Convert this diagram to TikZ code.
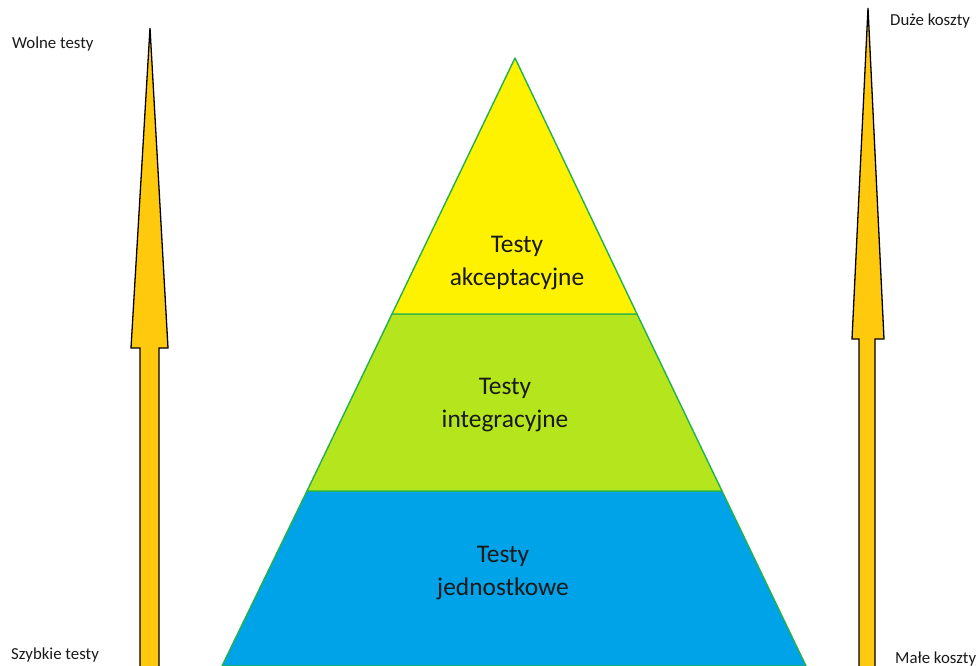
\documentclass[tikz,border=0pt]{standalone}
\usepackage{fontspec}
\setmainfont{Carlito}
\definecolor{pyrY}{HTML}{FFF200}
\definecolor{pyrG}{HTML}{B5E61D}
\definecolor{pyrB}{HTML}{00A2E8}
\definecolor{pyrLine}{HTML}{22B14C}
\definecolor{arrGold}{HTML}{FFC90E}
\begin{document}
\begin{tikzpicture}[x=1pt,y=-1pt,
  layer/.style={draw=pyrLine,line width=1.4pt,line join=round},
  bigarrow/.style={draw=black,fill=arrGold,line width=1.3pt,line join=miter},
  plabel/.style={font=\fontsize{25.4}{33}\selectfont,align=center,text=black!90},
  clabel/.style={font=\fontsize{16.8}{18}\selectfont,text=black!90,inner sep=0pt}]
\useasboundingbox (0,0) rectangle (977,666);
\clip (0,0) rectangle (977,666);
% pyramid
\coordinate (apex) at (515,58);
\coordinate (yl) at (392,314); \coordinate (yr) at (637,314);
\coordinate (gl) at (307,491); \coordinate (gr) at (722,491);
\coordinate (bl) at (222,666); \coordinate (br) at (806,666);
\filldraw[layer,fill=pyrB] (gl) -- (gr) -- (br) -- (bl) -- cycle;
\filldraw[layer,fill=pyrG] (yl) -- (yr) -- (gr) -- (gl) -- cycle;
\filldraw[layer,fill=pyrY] (apex) -- (yr) -- (yl) -- cycle;
\node[plabel] (acc) at (517,263) {Testy\\akceptacyjne};
\node[plabel] (int) at (505,405) {Testy\\integracyjne};
\node[plabel] (uni) at (503,573) {Testy\\jednostkowe};
% left arrow
\draw[bigarrow] (150,28) -- (168,348) -- (159,348) -- (159,672) -- (140,672) -- (140,348) -- (131,348) -- cycle;
% right arrow
\draw[bigarrow] (868,8) -- (884,339) -- (875,339) -- (875,672) -- (859,672) -- (859,339) -- (852,339) -- cycle;
% corner labels
\node[clabel,anchor=west] (slow) at (12,44) {Wolne testy};
\node[clabel,anchor=west] (fast) at (11,655) {Szybkie testy};
\node[clabel,anchor=west] (high) at (890,21) {Duże koszty};
\node[clabel,anchor=west] (low) at (895,659) {Małe koszty};
\end{tikzpicture}
\end{document}
